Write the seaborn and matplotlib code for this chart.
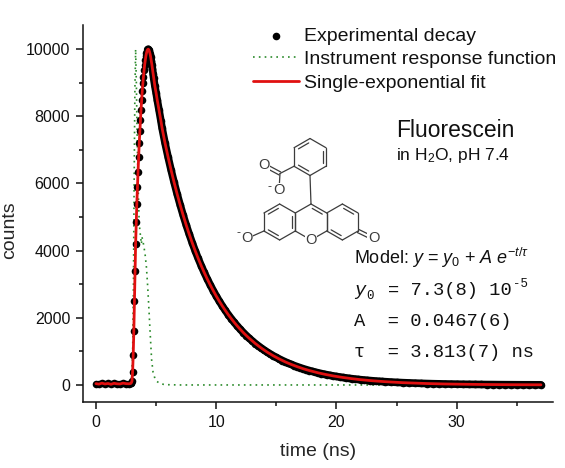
import numpy as np
import pandas as pd
import matplotlib
matplotlib.use('Agg')
import matplotlib.pyplot as plt
import seaborn as sns
from matplotlib.ticker import MultipleLocator

# experimental decay (also traced by the single-exponential fit)
decay_time = [
    0.0, 0.25, 0.5, 0.75, 1.0, 1.25, 1.5, 1.75, 2.0, 2.25, 2.5, 2.75, 2.9, 2.95,
    3.0, 3.05, 3.1, 3.15, 3.2, 3.25, 3.3, 3.35, 3.4, 3.45,
    3.5, 3.55, 3.6, 3.65, 3.7, 3.75, 3.8, 3.85, 3.9, 3.95,
    4.0, 4.05, 4.1, 4.15, 4.2, 4.25, 4.3, 4.35, 4.4, 4.45,
    4.5, 4.55, 4.6, 4.65, 4.7, 4.75, 4.8, 4.9, 5.0, 5.1,
    5.25, 5.4, 5.5, 5.75, 6.0, 6.25, 6.5, 6.75, 7.0, 7.25,
    7.5, 7.75, 8.0, 8.25, 8.5, 8.75, 9.0, 9.25, 9.5, 9.75,
    10.0, 10.25, 10.5, 10.75, 11.0, 11.25, 11.5, 11.75, 12.0, 12.25,
    12.5, 12.75, 13.0, 13.25, 13.5, 13.75, 14.0, 14.25, 14.5, 14.75,
    15.0, 15.25, 15.5, 15.75, 16.0, 16.25, 16.5, 16.75, 17.0, 17.25,
    17.5, 17.75, 18.0, 18.25, 18.5, 18.75, 19.0, 19.25, 19.5, 19.75,
    20.0, 20.25, 20.5, 20.75, 21.0, 21.25, 21.5, 21.75, 22.0, 22.25,
    22.5, 22.75, 23.0, 23.25, 23.5, 23.75, 24.0,
    24.5, 25.0, 25.5, 26.0, 26.5, 27.0, 27.5, 28.0, 28.5, 29.0, 29.5, 30.0, 30.5,
    31.0, 31.5, 32.0, 32.5, 33.0, 33.5, 34.0, 34.5, 35.0, 35.5, 36.0, 36.5, 37.0,
]
decay_counts = [
    40, 25, 55, 30, 45, 20, 50, 35, 30, 55, 40, 35, 45, 70,
    120, 400, 900, 1600, 2500, 3400, 4200, 4850, 5400, 5900,
    6350, 6800, 7200, 7550, 7900, 8200, 8500, 8750, 8980, 9180,
    9370, 9530, 9670, 9790, 9880, 9950, 9990, 10000, 9980, 9930,
    9860, 9770, 9660, 9540, 9410, 9270, 9130, 8900, 8700, 8480,
    8180, 7870, 7650, 7195, 6785, 6397, 6032, 5688, 5364, 5058,
    4769, 4497, 4240, 3998, 3770, 3555, 3352, 3161, 2981, 2811,
    2650, 2499, 2357, 2222, 2095, 1976, 1863, 1757, 1657, 1562,
    1473, 1389, 1310, 1235, 1165, 1098, 1035, 976, 921, 868,
    819, 772, 728, 686, 647, 610, 575, 543, 512, 482,
    455, 429, 405, 381, 360, 339, 320, 302, 284, 268,
    253, 239, 225, 212, 200, 189, 178, 168, 158, 149,
    141, 133, 125, 118, 111, 105, 99,
    88, 78, 69, 62, 55, 49, 43, 38, 34, 30, 27, 24, 21,
    19, 17, 15, 13, 12, 10, 9, 8, 7, 6, 6, 5, 5,
]

# instrument response function
irf_time = [0.0, 2.8, 2.95, 3.05, 3.12, 3.18, 3.24, 3.3, 3.36, 3.42,
            3.5, 3.6, 3.7, 3.78, 3.83, 3.9, 4.0, 4.1, 4.2, 4.3,
            4.4, 4.5, 4.63, 4.75, 4.9, 5.05, 5.3, 5.6, 6.0, 7.0, 37.0]
irf_counts = [0, 0, 100, 900, 3000, 6200, 8800, 10000, 9000, 7600,
              6000, 4800, 4450, 4200, 4400, 4300, 4100, 3850, 3500, 2950,
              2300, 1600, 750, 380, 200, 110, 50, 20, 8, 0, 0]

legend_labels = ['Experimental decay', 'Instrument response function',
                 'Single-exponential fit']

sns.set_theme(style='ticks')
plt.rcParams['font.family'] = ['Liberation Sans', 'DejaVu Sans']
plt.rcParams['mathtext.fontset'] = 'custom'
plt.rcParams['mathtext.rm'] = 'Liberation Sans'
plt.rcParams['mathtext.it'] = 'Liberation Sans:italic'
plt.rcParams['mathtext.bf'] = 'Liberation Sans:bold'
plt.rcParams['text.color'] = '#111111'

decay = pd.DataFrame({'time': decay_time, 'counts': decay_counts})
irf = pd.DataFrame({'time': irf_time, 'counts': irf_counts})

W, H = 565, 468
fig = plt.figure(figsize=(W / 100, H / 100), dpi=100)
ax = fig.add_axes([82.7 / W, 1 - 402.3 / H, (553 - 82.7) / W, (402.3 - 25) / H])

# thick black band for the dense part of the decay, dots on top
band = decay[decay['time'] >= 4.3]
sns.lineplot(data=band, x='time', y='counts', color='black', linewidth=5.5,
             estimator=None, sort=False, ax=ax, zorder=2)
sns.scatterplot(data=decay, x='time', y='counts', color='black', s=30,
                linewidth=0, ax=ax, zorder=2, label=legend_labels[0])
sns.lineplot(data=irf, x='time', y='counts', color='#2a8a2a', linewidth=1.2,
             linestyle=(0, (1, 2.5)), estimator=None, sort=False, ax=ax,
             zorder=1, label=legend_labels[1])
sns.lineplot(data=decay, x='time', y='counts', color='#e01010', linewidth=2,
             estimator=None, sort=False, ax=ax, zorder=3, label=legend_labels[2])

ax.set_xlim(-1.1, 38.0)
ax.set_ylim(-516, 10720)
sns.despine(ax=ax)
for s in ['left', 'bottom']:
    ax.spines[s].set_linewidth(1.1)
    ax.spines[s].set_color('#111111')
ax.xaxis.set_major_locator(MultipleLocator(10))
ax.xaxis.set_minor_locator(MultipleLocator(5))
ax.yaxis.set_major_locator(MultipleLocator(2000))
ax.yaxis.set_minor_locator(MultipleLocator(1000))
ax.tick_params(which='major', direction='out', length=5, width=1.1,
               labelsize=11.5, pad=4, color='#111111', labelcolor='#111111')
ax.tick_params(which='minor', direction='out', length=3, width=1.1, color='#111111')
ax.set_xlabel('time (ns)', fontsize=14)
ax.set_ylabel('counts', fontsize=14)
ax.xaxis.set_label_coords(0.5, -0.108)
ax.yaxis.set_label_coords(-0.138, 0.457)

handles, labels = ax.get_legend_handles_labels()
order = [labels.index(l) for l in legend_labels]
ax.legend([handles[i] for i in order], legend_labels, loc='upper left',
          bbox_to_anchor=(253 / W, 1 - 27 / H), bbox_transform=fig.transFigure,
          frameon=False, fontsize=14, handlelength=2.35, handletextpad=0.25,
          labelspacing=0.3, borderpad=0, borderaxespad=0)

# overlay in pixel coordinates for the annotation and the structure
ov = fig.add_axes([0, 0, 1, 1])
ov.set_xlim(0, W)
ov.set_ylim(H, 0)
ov.axis('off')

ov.text(396, 137.3, 'Fluorescein', fontsize=16.5, va='baseline')
ov.text(396, 160, r'in H$_2$O, pH 7.4', fontsize=12.5, va='baseline')
ov.text(354, 264, r'Model: $y$ = $y_0$ + $A$ $e^{-t/\tau}$', fontsize=13, va='baseline')

mono = ['Liberation Mono', 'DejaVu Sans Mono']
cw = 11.25  # character width of the monospaced lines, px
ov.text(354, 295, 'y', family=mono, style='italic', fontsize=13.5, va='baseline')
ov.text(366, 299, '0', family=mono, fontsize=9, va='baseline')
ov.text(354 + 3 * cw, 295, '= 7.3(8) 10', family=mono, fontsize=13.5, va='baseline')
ov.text(513, 287, '-5', family=mono, fontsize=9, va='baseline')
ov.text(354, 326, 'A  = 0.0467(6)', family=mono, fontsize=13.5, va='baseline')
ov.text(354, 357, '\u03c4  = 3.813(7) ns', family=mono, fontsize=13.5, va='baseline')

# fluorescein dianion
ink = '#3c3c3c'


def hexagon(cx, cy, h, r):
    return [(cx, cy - r), (cx + h, cy - r / 2), (cx + h, cy + r / 2),
            (cx, cy + r), (cx - h, cy + r / 2), (cx - h, cy - r / 2)]


def bond(p, q):
    ov.plot([p[0], q[0]], [p[1], q[1]], color=ink, lw=0.9,
            solid_capstyle='round', zorder=1)


def inner(p, q, c, d=3.2, trim=0.18):
    p, q, c = np.array(p), np.array(q), np.array(c)
    m = (p + q) / 2
    n = (c - m) / np.linalg.norm(c - m) * d
    bond(p + (q - p) * trim + n, q - (q - p) * trim + n)


def double(p, q, d=1.7):
    p, q = np.array(p), np.array(q)
    v = q - p
    n = np.array([-v[1], v[0]]) / np.linalg.norm(v) * d
    bond(p + n, q + n)
    bond(p - n, q - n)


def atom(x, y, s):
    ov.text(x, y, s, ha='center', va='center', fontsize=10.5, color=ink, zorder=3,
            bbox=dict(boxstyle='square,pad=0.05', fc='white', ec='none'))


h, r = 15.7, 18.0
rings = {
    'L': ((279.6, 222), [(5, 0), (1, 2), (3, 4)]),
    'C': ((311.0, 222), [(0, 1)]),
    'R': ((342.4, 222), [(0, 1), (3, 4)]),
    'P': ((310.0, 157), [(5, 0), (1, 2), (3, 4)]),
}
verts = {}
for key, (c, dbl) in rings.items():
    v = hexagon(c[0], c[1], 16.0 if key == 'P' else h, 18.5 if key == 'P' else r)
    verts[key] = v
    for i in range(6):
        bond(v[i], v[(i + 1) % 6])
    for i, j in dbl:
        inner(v[i], v[j], c)

bond(verts['C'][0], verts['P'][3])
carb = (280, 173.5)
bond(verts['P'][4], carb)
double(carb, (264, 165))
bond(carb, (279, 190.5))
bond(verts['L'][4], (247, 238.5))
double(verts['R'][2], (373.5, 238.5))

atom(311, verts['C'][3][1], 'O')
atom(264, 165, 'O')
atom(279, 190.5, 'O')
atom(247, 238.5, 'O')
atom(373.5, 238.5, 'O')
ov.text(269.5, 187, '-', ha='center', va='center', fontsize=9, color=ink)
ov.text(238.5, 233.5, '-', ha='center', va='center', fontsize=9, color=ink)

fig.savefig('out.png', dpi=100)
